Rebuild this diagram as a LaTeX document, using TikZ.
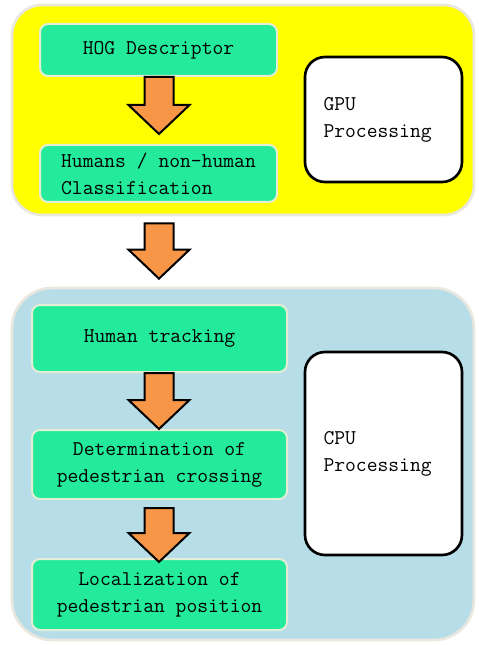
\documentclass[tikz,border=0pt]{standalone}
\definecolor{gpuyellow}{RGB}{255,255,0}
\definecolor{cpublue}{RGB}{183,221,232}
\definecolor{stepgreen}{RGB}{35,235,155}
\definecolor{arroworange}{RGB}{247,150,70}
\definecolor{paneledge}{RGB}{233,231,222}
\definecolor{boxedge}{RGB}{228,238,212}
\usepackage{tikz}
\usepackage{xcolor}
\usetikzlibrary{positioning,calc}

% block arrow pointing down, from top centre #1 to tip #2
\newcommand{\flowarrow}[2]{%
  \draw[fatarrow] ($(#1)+(-14.5,0)$) -- ($(#2)+(-14.5,-29)$) -- ($(#2)+(-30.5,-29)$) -- (#2)
    -- ($(#2)+(30.5,-29)$) -- ($(#2)+(14.5,-29)$) -- ($(#1)+(14.5,0)$) -- cycle;}

\begin{document}
\begin{tikzpicture}[
        x=0.75pt, y=-0.75pt,
        font=\fontsize{15.75}{20.25}\selectfont\ttfamily,
        panel/.style={rectangle, draw=paneledge, line width=2pt, minimum width=346.5pt},
        stepbox/.style={rectangle, draw=boxedge, line width=1.5pt, fill=stepgreen, rounded corners=6pt, align=center, inner sep=0pt},
        unitbox/.style={rectangle, draw=black, line width=2pt, fill=white, rounded corners=15pt, minimum width=117.75pt, align=left, text width=90pt},
        fatarrow/.style={draw=black, line width=1.5pt, fill=arroworange, line join=miter}
    ]
        \useasboundingbox (0,0) rectangle (478,645);

        % Panels
        \node[panel, fill=gpuyellow, minimum height=157.5pt, rounded corners=22.5pt] (gpupanel) at (243,110) {};
        \node[panel, fill=cpublue, minimum height=264pt, rounded corners=30pt] (cpupanel) at (243,464) {};

        % GPU steps
        \node[stepbox, minimum width=177.75pt, minimum height=39pt] (hog) at (158.5,50) {HOG Descriptor};
        \node[stepbox, minimum width=177.75pt, minimum height=42.75pt, align=left, below=50.25pt of hog] (classify) {Humans / non-human\\Classification};
        \node[unitbox, minimum height=93.75pt] (gpu) at (383.5,119.5) {GPU\\Processing};

        % CPU steps
        \node[stepbox, minimum width=191.25pt, minimum height=50.25pt] (track) at (159.5,338.5) {Human tracking};
        \node[stepbox, minimum width=191.25pt, minimum height=51.75pt, below=42pt of track] (cross) {Determination of\\pedestrian crossing};
        \node[stepbox, minimum width=191.25pt, minimum height=53.25pt, below=43.5pt of cross] (locate) {Localization of\\pedestrian position};
        \node[unitbox, minimum height=152.25pt] (cpu) at (383.5,453.5) {CPU\\Processing};

        % Arrows
        \coordinate (a1) at ($(hog.south)+(0.5,0)$);
        \coordinate (t1) at ($(classify.north)+(0.5,-10)$);
        \coordinate (a2) at ($(gpupanel.south -| hog)+(0.5,7)$);
        \coordinate (t2) at ($(cpupanel.north -| hog)+(0.5,-8)$);
        \coordinate (a3) at ($(track.south)+(-0.5,0)$);
        \coordinate (t3) at ($(cross.north)+(-0.5,0)$);
        \coordinate (a4) at ($(cross.south)+(-0.5,8)$);
        \coordinate (t4) at ($(locate.north)+(-0.5,4)$);
        \flowarrow{a1}{t1}
        \flowarrow{a2}{t2}
        \flowarrow{a3}{t3}
        \flowarrow{a4}{t4}
    \end{tikzpicture}
\end{document}
